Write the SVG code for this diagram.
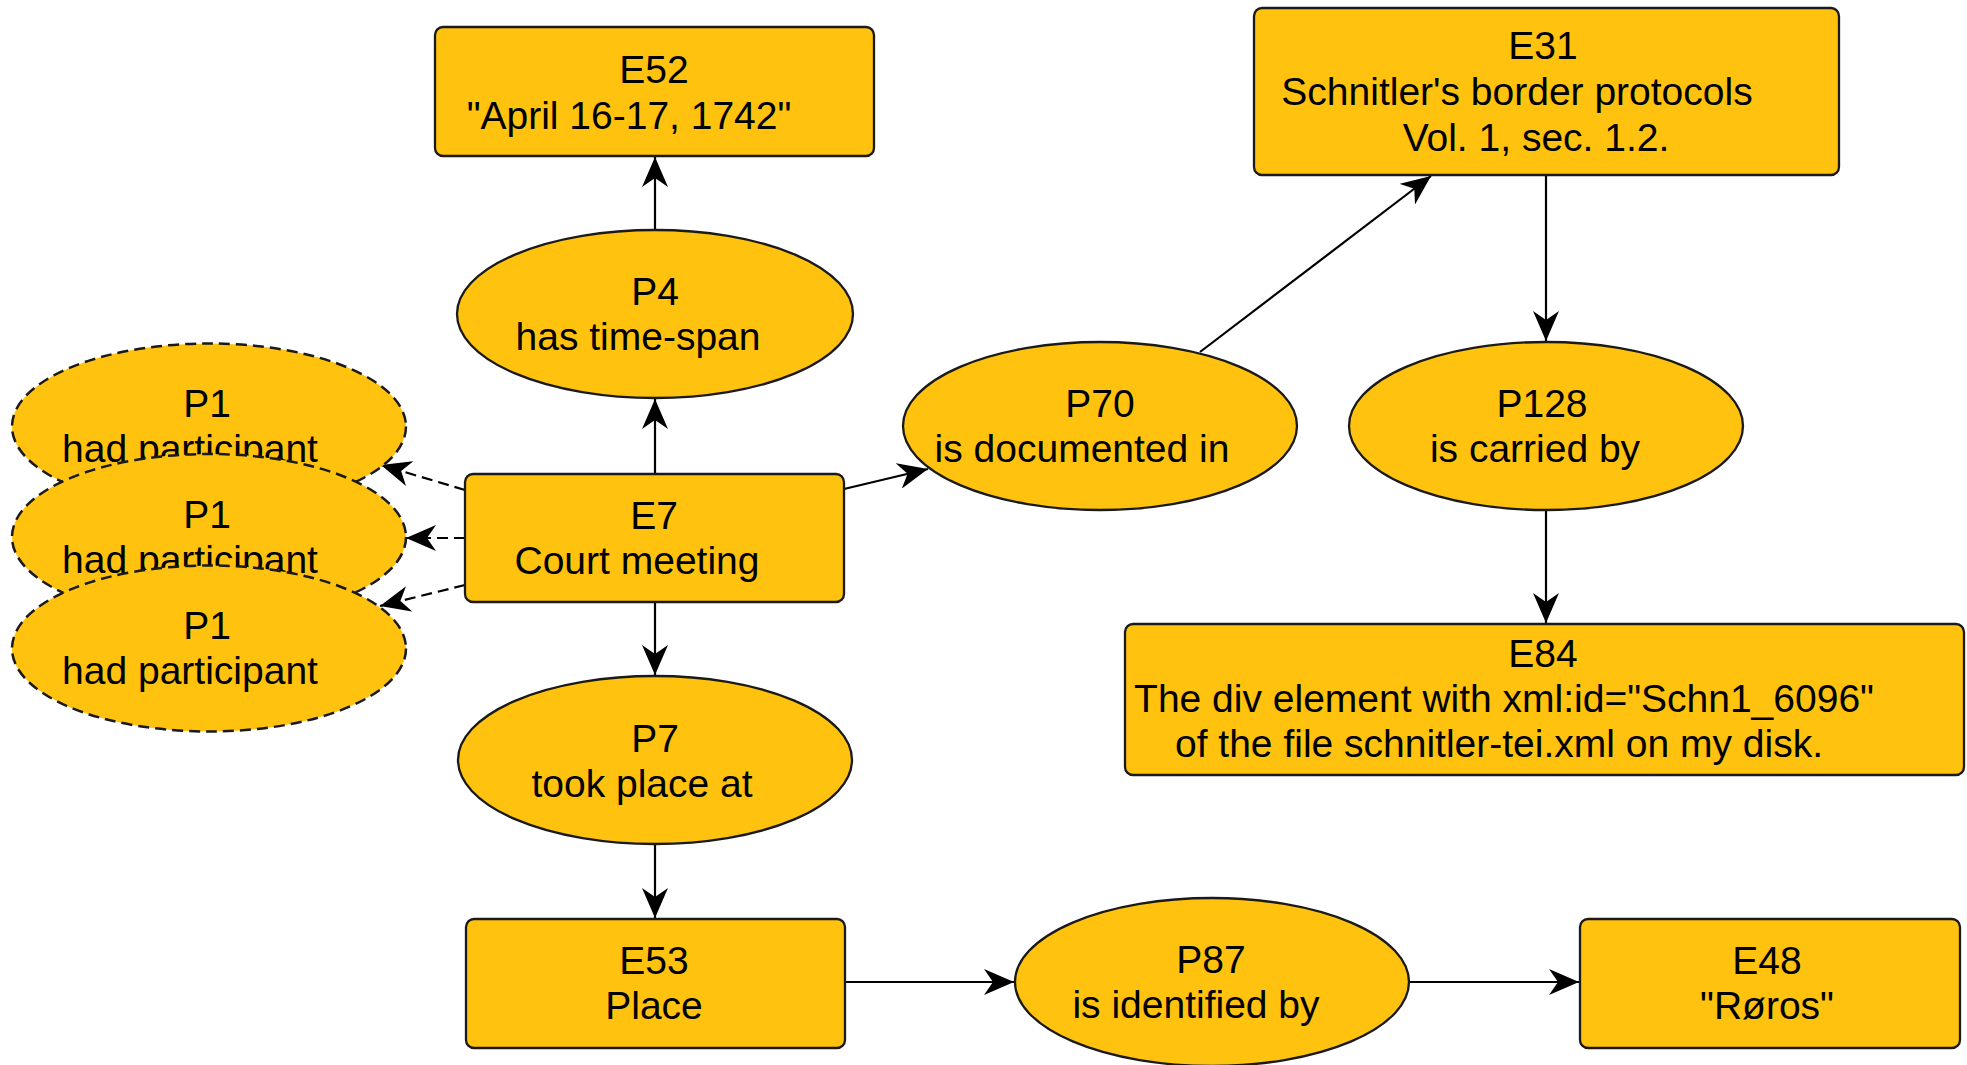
<svg xmlns="http://www.w3.org/2000/svg" width="1967" height="1065" viewBox="0 0 1967 1065">
<style>
.n{fill:#FFC20E;stroke:#1a1a1a;stroke-width:2.3}
.d{stroke-dasharray:11 6;stroke-width:2.5}
text{font-family:"Liberation Sans",Arial,sans-serif;font-size:39px;fill:#000;text-anchor:middle}
.e{fill:none;stroke:#000;stroke-width:2.2;marker-end:url(#arr)}
</style>
<defs>
<marker id="arr" markerWidth="31" markerHeight="26" refX="30" refY="13" orient="auto" markerUnits="userSpaceOnUse">
<path d="M0,0 L30,13 L0,26 L9,13 z" fill="#000"/>
</marker>
</defs>
<rect width="1967" height="1065" fill="#fff"/>
<g id="connectors">
<path class="e" d="M655,230 L655,157"/>
<path class="e" d="M655,474 L655,399"/>
<path class="e" d="M655,602 L655,675"/>
<path class="e" d="M655,845 L655,918"/>
<path class="e d" d="M465,490 L381,465"/>
<path class="e d" d="M465,538 L406,538"/>
<path class="e d" d="M465,585 L380,606"/>
<path class="e" d="M844,489 L928,469"/>
<path class="e" d="M1200,352 L1431,176"/>
<path class="e" d="M1546,175 L1546,341"/>
<path class="e" d="M1546,510 L1546,623"/>
<path class="e" d="M845,982 L1014,982"/>
<path class="e" d="M1409,982 L1579,982"/>
</g>
<g id="E52"><rect class="n" x="435" y="27" width="439" height="129" rx="8"/><text x="654" y="83">E52</text><text x="629" y="129">"April 16-17, 1742"</text></g>
<g id="P4"><ellipse class="n" cx="655" cy="314" rx="198" ry="84"/><text x="655" y="305">P4</text><text x="638" y="350">has time-span</text></g>
<g id="E7"><rect class="n" x="465" y="474" width="379" height="128" rx="8"/><text x="654" y="529">E7</text><text x="637" y="574">Court meeting</text></g>
<g id="P1a"><ellipse class="n d" cx="209" cy="426.5" rx="197" ry="83"/><text x="207" y="417">P1</text><text x="190" y="462">had participant</text></g>
<g id="P1b"><ellipse class="n d" cx="209" cy="537" rx="197" ry="83"/><text x="207" y="528">P1</text><text x="190" y="573">had participant</text></g>
<g id="P1c"><ellipse class="n d" cx="209" cy="648.5" rx="197" ry="83"/><text x="207" y="639">P1</text><text x="190" y="684">had participant</text></g>
<g id="P70"><ellipse class="n" cx="1100" cy="426" rx="197" ry="84"/><text x="1100" y="417">P70</text><text x="1082" y="462">is documented in</text></g>
<g id="E31"><rect class="n" x="1254" y="8" width="585" height="167" rx="8"/><text x="1543" y="59">E31</text><text x="1517" y="105">Schnitler's border protocols</text><text x="1536" y="151">Vol. 1, sec. 1.2.</text></g>
<g id="P128"><ellipse class="n" cx="1546" cy="426" rx="197" ry="84"/><text x="1542" y="417">P128</text><text x="1535" y="462">is carried by</text></g>
<g id="E84"><rect class="n" x="1125" y="624" width="839" height="151" rx="8"/><text x="1543" y="667">E84</text><text x="1504" y="712">The div element with xml:id="Schn1_6096"</text><text x="1499" y="757">of the file schnitler-tei.xml on my disk.</text></g>
<g id="P7"><ellipse class="n" cx="655" cy="760" rx="197" ry="84"/><text x="655" y="752">P7</text><text x="642" y="797">took place at</text></g>
<g id="E53"><rect class="n" x="466" y="919" width="379" height="129" rx="8"/><text x="654" y="974">E53</text><text x="654" y="1019">Place</text></g>
<g id="P87"><ellipse class="n" cx="1212" cy="982" rx="197" ry="84"/><text x="1211" y="973">P87</text><text x="1196" y="1018">is identified by</text></g>
<g id="E48"><rect class="n" x="1580" y="919" width="380" height="129" rx="8"/><text x="1767" y="974">E48</text><text x="1767" y="1019">"Røros"</text></g>
</svg>
